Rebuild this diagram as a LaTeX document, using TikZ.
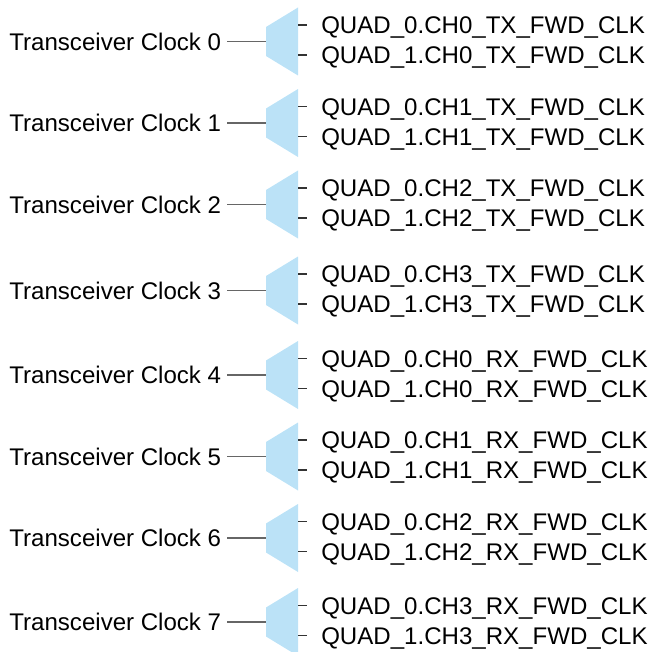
\documentclass[tikz,border=0pt]{standalone}
\usepackage{fontspec}
\setmainfont{Liberation Sans}
\usetikzlibrary{positioning}
\definecolor{muxblue}{RGB}{187,226,247}
\tikzset{clk/.style = {anchor=east, inner xsep=4.2pt, inner ysep=0pt, text height=12.8pt, text depth=0pt, font=\fontsize{18.05}{20}\selectfont},
         sig/.style = {anchor=west, inner xsep=10.5pt, inner ysep=0pt, text height=12.8pt, text depth=0pt, font=\fontsize{18.05}{20}\selectfont},
         inwire/.style = {draw=black!60, line width=1.1pt},
         stub/.style = {draw=black!80, line width=0.9pt},
         mux/.pic = {  \fill[muxblue] (-16,-14.5) -- (16,-34) -- (16,34) -- (-16,14.5) -- cycle;
                       \coordinate (-in) at (-16,0);
                       \coordinate (-o1) at (16,-16.5);
                       \coordinate (-o2) at (16,13.5);}}

\begin{document}
\begin{tikzpicture}[x=0.75pt,y=-0.75pt]
        \useasboundingbox (0,0) rectangle (650,652);

        \pic (m0) at (282,41.5) {mux};
        \pic (m1) at (282,123) {mux};
        \pic (m2) at (282,204.5) {mux};
        \pic (m3) at (282,290.5) {mux};
        \pic (m4) at (282,375) {mux};
        \pic (m5) at (282,456.5) {mux};
        \pic (m6) at (282,538) {mux};
        \pic (m7) at (282,622) {mux};

        \node[clk] (c0) at (227,41.5) {Transceiver Clock 0};
        \node[clk] (c1) at (227,123) {Transceiver Clock 1};
        \node[clk] (c2) at (227,204.5) {Transceiver Clock 2};
        \node[clk] (c3) at (227,290.5) {Transceiver Clock 3};
        \node[clk] (c4) at (227,375) {Transceiver Clock 4};
        \node[clk] (c5) at (227,456.5) {Transceiver Clock 5};
        \node[clk] (c6) at (227,538) {Transceiver Clock 6};
        \node[clk] (c7) at (227,622) {Transceiver Clock 7};

        \node[sig, right=6.75pt of m0-o1] (q00) {QUAD\_0.CH0\_TX\_FWD\_CLK};
        \node[sig, right=6.75pt of m0-o2] (q01) {QUAD\_1.CH0\_TX\_FWD\_CLK};
        \node[sig, right=6.75pt of m1-o1] (q10) {QUAD\_0.CH1\_TX\_FWD\_CLK};
        \node[sig, right=6.75pt of m1-o2] (q11) {QUAD\_1.CH1\_TX\_FWD\_CLK};
        \node[sig, right=6.75pt of m2-o1] (q20) {QUAD\_0.CH2\_TX\_FWD\_CLK};
        \node[sig, right=6.75pt of m2-o2] (q21) {QUAD\_1.CH2\_TX\_FWD\_CLK};
        \node[sig, right=6.75pt of m3-o1] (q30) {QUAD\_0.CH3\_TX\_FWD\_CLK};
        \node[sig, right=6.75pt of m3-o2] (q31) {QUAD\_1.CH3\_TX\_FWD\_CLK};
        \node[sig, right=6.75pt of m4-o1] (q40) {QUAD\_0.CH0\_RX\_FWD\_CLK};
        \node[sig, right=6.75pt of m4-o2] (q41) {QUAD\_1.CH0\_RX\_FWD\_CLK};
        \node[sig, right=6.75pt of m5-o1] (q50) {QUAD\_0.CH1\_RX\_FWD\_CLK};
        \node[sig, right=6.75pt of m5-o2] (q51) {QUAD\_1.CH1\_RX\_FWD\_CLK};
        \node[sig, right=6.75pt of m6-o1] (q60) {QUAD\_0.CH2\_RX\_FWD\_CLK};
        \node[sig, right=6.75pt of m6-o2] (q61) {QUAD\_1.CH2\_RX\_FWD\_CLK};
        \node[sig, right=6.75pt of m7-o1] (q70) {QUAD\_0.CH3\_RX\_FWD\_CLK};
        \node[sig, right=6.75pt of m7-o2] (q71) {QUAD\_1.CH3\_RX\_FWD\_CLK};

        \draw[inwire](c0)--(m0-in);
        \draw[inwire](c1)--(m1-in);
        \draw[inwire](c2)--(m2-in);
        \draw[inwire](c3)--(m3-in);
        \draw[inwire](c4)--(m4-in);
        \draw[inwire](c5)--(m5-in);
        \draw[inwire](c6)--(m6-in);
        \draw[inwire](c7)--(m7-in);

        \draw[stub](m0-o1)--(q00); \draw[stub](m0-o2)--(q01);
        \draw[stub](m1-o1)--(q10); \draw[stub](m1-o2)--(q11);
        \draw[stub](m2-o1)--(q20); \draw[stub](m2-o2)--(q21);
        \draw[stub](m3-o1)--(q30); \draw[stub](m3-o2)--(q31);
        \draw[stub](m4-o1)--(q40); \draw[stub](m4-o2)--(q41);
        \draw[stub](m5-o1)--(q50); \draw[stub](m5-o2)--(q51);
        \draw[stub](m6-o1)--(q60); \draw[stub](m6-o2)--(q61);
        \draw[stub](m7-o1)--(q70); \draw[stub](m7-o2)--(q71);
    \end{tikzpicture}
\end{document}
